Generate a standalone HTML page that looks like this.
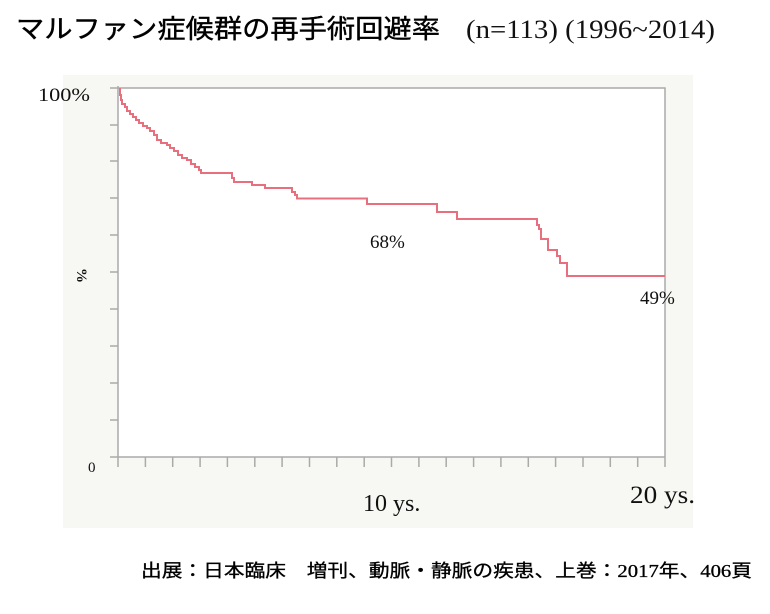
<!DOCTYPE html>
<html><head><meta charset="utf-8"><style>
body{margin:0;width:770px;height:609px;background:#fff;overflow:hidden}
</style></head><body>
<svg width="770" height="609" viewBox="0 0 770 609" xmlns="http://www.w3.org/2000/svg">
<rect x="63" y="75" width="630" height="453" fill="#f7f7f4"/>
<rect x="118" y="88" width="547" height="369" fill="#fff"/>
<g stroke="#aaa" stroke-width="1.5" fill="none">
<path d="M118 88 H665 V457 M118 86 V457 H665"/>
<path d="M110 88H118M110 125H118M110 161H118M110 198H118M110 235H118M110 272H118M110 309H118M110 346H118M110 383H118M110 420H118M110 457H118"/>
<path d="M118.0 457v10M145.4 457v10M172.7 457v10M200.1 457v10M227.4 457v10M254.8 457v10M282.1 457v10M309.5 457v10M336.8 457v10M364.2 457v10M391.5 457v10M418.9 457v10M446.2 457v10M473.6 457v10M500.9 457v10M528.3 457v10M555.6 457v10M583.0 457v10M610.3 457v10M637.7 457v10M665.0 457v10"/>
</g>
<path fill="none" stroke="#e8707e" stroke-width="2" d="M120 88 V95 H121 V100 H122 V104 H125 V107 H127 V111 H130 V114 H133 V117 H136 V120 H139 V123 H143 V126 H147 V128 H150 V131 H154 V135 H157 V140 H161 V143 H167 V145 H170 V148 H174 V151 H178 V155 H182 V158 H187 V160 H191 V164 H195 V167 H199 V170 H201 V173 H232 V178 H234 V182 H252 V185 H265 V188 H292 V192 H295 V195 H297 V198.5 H367 V204 H437 V212 H457 V219 H537 V225 H539 V229 H541 V239 H548 V250 H557 V256 H560 V263 H567 V276 H665"/>
<g font-family="Liberation Serif, serif" fill="#111">
<text x="38" y="101" font-size="19" textLength="52" lengthAdjust="spacingAndGlyphs">100%</text>
<text x="88" y="472" font-size="15">0</text>
<text x="0" y="0" font-size="15" font-weight="bold" transform="translate(77,268) rotate(90)">%</text>
<text x="370" y="248" font-size="19">68%</text>
<text x="640" y="304" font-size="19">49%</text>
<text x="363" y="511" font-size="24">10 ys.</text>
<text x="630" y="503" font-size="25" textLength="65" lengthAdjust="spacingAndGlyphs">20 ys.</text>
<text x="466" y="38" font-size="26" textLength="249" lengthAdjust="spacingAndGlyphs">(n=113) (1996~2014)</text>
</g>
<text x="16" y="38" font-family="Liberation Sans, Noto Sans CJK JP, sans-serif" font-size="26" fill="#000" stroke="#000" stroke-width="0.4" textLength="424" lengthAdjust="spacingAndGlyphs">マルファン症候群の再手術回避率</text>
<text x="141" y="577" font-family="Liberation Serif, Noto Sans CJK JP, sans-serif" font-size="18" fill="#000" stroke="#000" stroke-width="0.3" textLength="611" lengthAdjust="spacingAndGlyphs">出展：日本臨床　増刊、動脈・静脈の疾患、上巻：2017年、406頁</text>
</svg>
</body></html>
